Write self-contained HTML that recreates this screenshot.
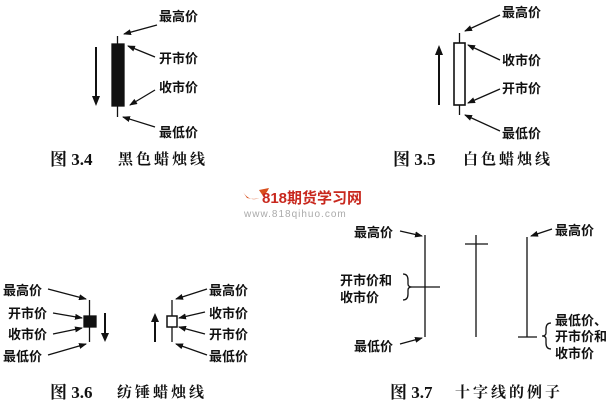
<!DOCTYPE html>
<html><head><meta charset="utf-8"><style>
body{margin:0;background:#fff;}
svg{display:block;}
text{font-family:"Liberation Serif","Noto Serif CJK SC","Noto Sans CJK SC",serif;fill:#111;}
.l{font-size:13px;font-weight:bold;font-family:"Liberation Sans","Noto Sans CJK SC",sans-serif;}
.c{font-size:17px;font-weight:bold;}
.c2{font-size:15px;letter-spacing:3px;font-weight:bold;}
</style></head><body>
<svg width="614" height="416" viewBox="0 0 614 416" xmlns="http://www.w3.org/2000/svg">
<defs><marker id="a" markerWidth="8" markerHeight="6" refX="7" refY="3" orient="auto" markerUnits="userSpaceOnUse"><path d="M0,0 L8,3 L0,6 z" fill="#111"/></marker></defs>
<g stroke="#111" stroke-width="1.3" fill="none">
<line x1="117.5" y1="36" x2="117.5" y2="117"/>
<rect x="112" y="44" width="12" height="62" fill="#111"/>
<line x1="96" y1="47" x2="96" y2="98" stroke-width="2"/>
<line x1="157" y1="25" x2="124" y2="34" marker-end="url(#a)"/>
<line x1="155" y1="57" x2="128" y2="46" marker-end="url(#a)"/>
<line x1="155" y1="90" x2="130" y2="105" marker-end="url(#a)"/>
<line x1="155" y1="127" x2="123" y2="117" marker-end="url(#a)"/>
<line x1="459.5" y1="33" x2="459.5" y2="115"/>
<rect x="454" y="43" width="11" height="62" fill="#fff" stroke-width="1.6"/>
<line x1="439" y1="53" x2="439" y2="105" stroke-width="2"/>
<line x1="500" y1="15" x2="465" y2="31" marker-end="url(#a)"/>
<line x1="500" y1="60" x2="468" y2="45" marker-end="url(#a)"/>
<line x1="500" y1="89" x2="468" y2="103" marker-end="url(#a)"/>
<line x1="500" y1="131" x2="465" y2="115" marker-end="url(#a)"/>
<line x1="89.5" y1="300" x2="89.5" y2="342"/>
<rect x="84" y="316" width="12" height="11" fill="#111"/>
<line x1="105" y1="313" x2="105" y2="335" stroke-width="2"/>
<line x1="48" y1="289" x2="86" y2="299" marker-end="url(#a)"/>
<line x1="53" y1="313" x2="82" y2="318" marker-end="url(#a)"/>
<line x1="53" y1="334" x2="82" y2="328" marker-end="url(#a)"/>
<line x1="48" y1="355" x2="86" y2="344" marker-end="url(#a)"/>
<line x1="172" y1="300" x2="172" y2="342"/>
<rect x="167" y="316" width="10" height="11" fill="#fff" stroke-width="1.5"/>
<line x1="155" y1="320" x2="155" y2="342" stroke-width="2"/>
<line x1="207" y1="289" x2="176" y2="299" marker-end="url(#a)"/>
<line x1="205" y1="312" x2="179" y2="318" marker-end="url(#a)"/>
<line x1="205" y1="334" x2="179" y2="327" marker-end="url(#a)"/>
<line x1="207" y1="355" x2="176" y2="344" marker-end="url(#a)"/>
<line x1="425" y1="235" x2="425" y2="337"/>
<line x1="412" y1="287" x2="440" y2="287"/>
<line x1="476" y1="235" x2="476" y2="337"/>
<line x1="465" y1="244" x2="488" y2="244"/>
<line x1="527" y1="237" x2="527" y2="337"/>
<line x1="518" y1="337" x2="537" y2="337"/>
<line x1="400" y1="231" x2="422" y2="236" marker-end="url(#a)"/>
<line x1="400" y1="344" x2="422" y2="338" marker-end="url(#a)"/>
<line x1="552" y1="229" x2="531" y2="236" marker-end="url(#a)"/>
<path d="M403,274 q5,0 5,6 v4 q0,3 4,3 q-4,0 -4,3 v4 q0,6 -5,6"/>
<path d="M551,323 q-5,0 -5,6 v4 q0,3 -4,3 q4,0 4,3 v4 q0,6 5,6"/>
</g>
<g fill="#111">
<path d="M92,96 L96,106 L100,96 z"/>
<path d="M435,55 L439,45 L443,55 z"/>
<path d="M101,333 L105,342 L109,333 z"/>
<path d="M151,322 L155,313 L159,322 z"/>
</g>
<g class="l">
<text x="159" y="21" class="l">最高价</text>
<text x="159" y="63" class="l">开市价</text>
<text x="159" y="92" class="l">收市价</text>
<text x="159" y="137" class="l">最低价</text>
<text x="502" y="17" class="l">最高价</text>
<text x="502" y="65" class="l">收市价</text>
<text x="502" y="93" class="l">开市价</text>
<text x="502" y="138" class="l">最低价</text>
<text x="3" y="295" class="l">最高价</text>
<text x="8" y="318" class="l">开市价</text>
<text x="8" y="339" class="l">收市价</text>
<text x="3" y="361" class="l">最低价</text>
<text x="209" y="295" class="l">最高价</text>
<text x="209" y="318" class="l">收市价</text>
<text x="209" y="339" class="l">开市价</text>
<text x="209" y="361" class="l">最低价</text>
<text x="354" y="237" class="l">最高价</text>
<text x="340" y="285" class="l">开市价和</text>
<text x="340" y="302" class="l">收市价</text>
<text x="354" y="351" class="l">最低价</text>
<text x="555" y="235" class="l">最高价</text>
<text x="555" y="325" class="l">最低价、</text>
<text x="555" y="341" class="l">开市价和</text>
<text x="555" y="358" class="l">收市价</text>
</g>
<text x="50" y="165" class="c">图 3.4</text><text x="118" y="164" class="c2">黑色蜡烛线</text>
<text x="393" y="165" class="c">图 3.5</text><text x="463" y="164" class="c2">白色蜡烛线</text>
<text x="50" y="398" class="c">图 3.6</text><text x="117" y="397" class="c2">纺锤蜡烛线</text>
<text x="390" y="398" class="c">图 3.7</text><text x="455" y="397" class="c2">十字线的例子</text>
<path d="M243,192 q8,12 20,4 l-4,-6 l10,-2 q-6,14 -22,10 z" fill="#d9501e"/>
<text x="262" y="203" style="font-family:'Liberation Sans','Noto Sans CJK SC',sans-serif;font-size:15px;font-weight:bold;fill:#c8281e">818期货学习网</text>
<text x="244" y="217" style="font-family:'Liberation Sans',sans-serif;font-size:10px;fill:#aaa;letter-spacing:1px">www.818qihuo.com</text>
</svg>
</body></html>
